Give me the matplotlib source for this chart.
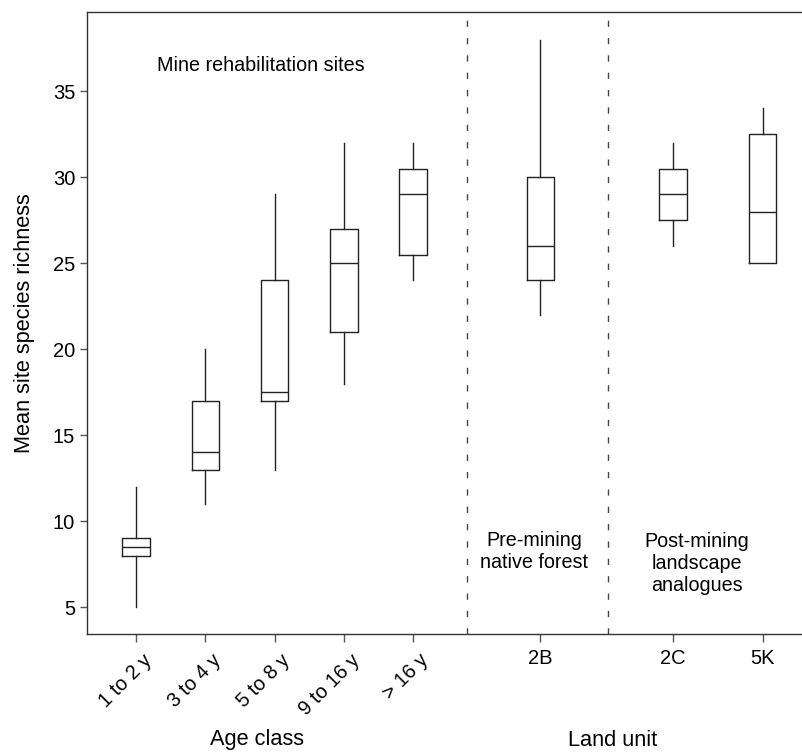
import matplotlib
matplotlib.use("Agg")
from matplotlib import pyplot as plt
from matplotlib import transforms

plt.rcParams['font.family'] = ['Liberation Sans', 'DejaVu Sans']

labels = ["1 to 2 y", "3 to 4 y", "5 to 8 y", "9 to 16 y", "> 16 y", "2B", "2C", "5K"]
positions = [1, 2, 3, 4, 5, 6.84, 8.76, 10.05]
whislo = [5, 11, 13, 18, 24, 22, 26, 25]
q1 = [8, 13, 17, 21, 25.5, 24, 27.5, 25]
med = [8.5, 14, 17.5, 25, 29, 26, 29, 28]
q3 = [9, 17, 24, 27, 30.5, 30, 30.5, 32.5]
whishi = [12, 20, 29, 32, 32, 38, 32, 34]
dividers = [5.78, 7.82]

stats = []
for i in range(len(labels)):
    stats.append({"whislo": whislo[i], "q1": q1[i], "med": med[i],
                  "q3": q3[i], "whishi": whishi[i], "fliers": []})

fig = plt.figure(figsize=(8.02, 7.54), dpi=100)
ax = fig.add_axes([0.1085, 0.159, 0.8915, 0.825])

line = dict(color="#222222", linewidth=1.0)
ax.bxp(stats, positions=positions, widths=0.40, showcaps=False,
       boxprops=line, whiskerprops=line, medianprops=line, manage_ticks=False)

for d in dividers:
    ax.axvline(d, color="#444444", linewidth=1.0, linestyle=(0, (4.5, 8)))

ax.set_xlim(0.29, 10.62)
ax.set_ylim(3.43, 39.6)
ax.set_yticks([5, 10, 15, 20, 25, 30, 35])
ax.set_xticks(positions)
ax.set_xticklabels(labels)

ax.spines["right"].set_visible(False)
for s in ["left", "bottom", "top"]:
    ax.spines[s].set_color("#333333")
    ax.spines[s].set_linewidth(1.0)
ax.tick_params(axis="x", length=6, width=1, color="#555555", labelsize=14.5, pad=5)
ax.tick_params(axis="y", length=5, width=1, color="#555555", labelsize=14.5)

# rotated age-class labels sit a little right of and below their ticks
shift = transforms.ScaledTranslation(0.13, -0.08, fig.dpi_scale_trans)
for t in ax.get_xticklabels()[:5]:
    t.set_rotation(45)
    t.set_ha("right")
    t.set_va("center")
    t.set_rotation_mode("anchor")
    t.set_transform(t.get_transform() + shift)

ax.set_ylabel("Mean site species richness", fontsize=15.7, labelpad=13)

ax.text(2.8, 36.5, "Mine rehabilitation sites", ha="center", va="center", fontsize=14.2)
ax.text(6.75, 8.26, "Pre-mining\nnative forest", ha="center", va="center", fontsize=14.2,
        linespacing=1.2)
ax.text(9.1, 7.56, "Post-mining\nlandscape\nanalogues", ha="center", va="center",
        fontsize=14.2, linespacing=1.2)

fig.text(257 / 802, 1 - 740 / 754, "Age class", ha="center", va="center", fontsize=15.7)
fig.text(613 / 802, 1 - 740 / 754, "Land unit", ha="center", va="center", fontsize=15.7)

plt.savefig("out.png", dpi=100)
